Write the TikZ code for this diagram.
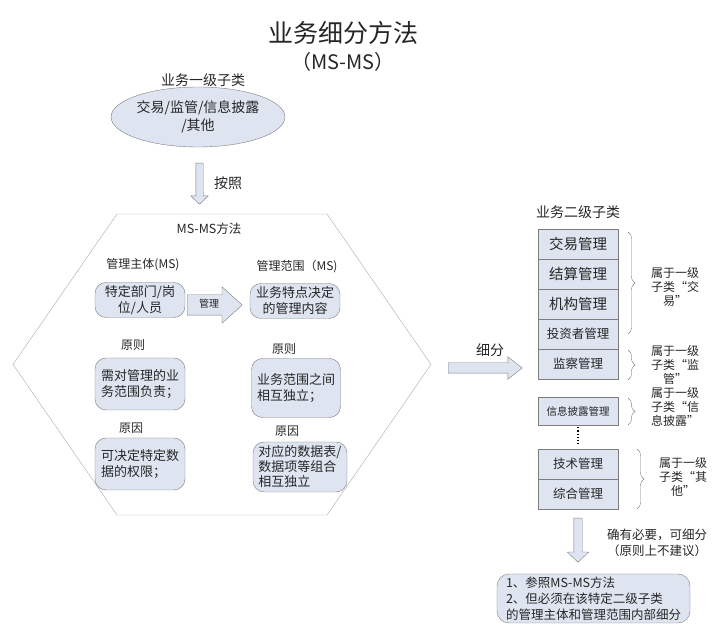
\documentclass[tikz,border=0pt]{standalone}
\usepackage{fontspec}
\setmainfont{Noto Sans CJK SC}
\usetikzlibrary{shapes.geometric,shapes.arrows,decorations.pathreplacing}
\definecolor{boxfill}{RGB}{222,229,241}
\definecolor{boxline}{RGB}{125,125,125}
\definecolor{hexline}{RGB}{170,170,170}
\begin{document}
\begin{tikzpicture}[x=1pt, y=-1pt,
  every node/.style={text=black!85},
  lbl/.style={font=\fontsize{12}{14}\selectfont, align=center, inner sep=0pt},
  box/.style={draw=boxline, fill=boxfill, rectangle, rounded corners=11pt, inner sep=2pt, font=\fontsize{13}{16}\selectfont},
  cell/.style={draw=boxline, fill=boxfill, rectangle, minimum width=80pt, minimum height=30pt, inner sep=0pt},
  fatarrow/.style={single arrow, draw=boxline, fill=boxfill, single arrow head indent=0pt, inner sep=0pt, anchor=tail},
  brc/.style={draw=boxline, decorate, decoration={brace, amplitude=7pt}}
]
\useasboundingbox (0,0) rectangle (724,636);
\node[font=\fontsize{25}{28}\selectfont] (title) at (343,33) {业务细分方法};
\node[font=\fontsize{20}{24}\selectfont] (sub) at (343,62) {（MS-MS）};

\node[lbl, font=\fontsize{14}{16}\selectfont] (l1) at (203,80) {业务一级子类};
\node[ellipse, draw=boxline, fill=boxfill, minimum width=170pt, minimum height=60pt, inner sep=0pt, align=center, font=\fontsize{14}{18}\selectfont] (cls1) at (198,117) {交易/监管/信息披露\\/其他};
\node[fatarrow, shape border rotate=270, minimum height=41pt, minimum width=17pt, inner sep=3.5pt, single arrow head extend=5pt, single arrow tip angle=93] (a1) at (199.5,163) {};
\node[lbl, font=\fontsize{14}{16}\selectfont] (anzhao) at (228,183) {按照};

\draw[hexline] (117,214) -- (327,214) -- (431,364.5) -- (327,515) -- (117,515) -- (13,364.5) -- cycle;
\node[lbl, font=\fontsize{12.5}{14}\selectfont] (msms) at (209,229) {MS-MS方法};
\node[lbl] (zt) at (143,265) {管理主体(MS)};
\node[lbl] (fw) at (297,267) {管理范围（MS)};
\node[box, minimum width=90pt, minimum height=35pt, align=center] (b1) at (140,300) {特定部门/岗\\位/人员};
\node[fatarrow, minimum height=55pt, minimum width=36pt, inner xsep=2pt, inner ysep=5pt, text height=7.5pt, text depth=2.5pt, single arrow head extend=8pt, single arrow tip angle=84, font=\fontsize{10}{12}\selectfont] (mg) at (187,305) {管理};
\node[box, minimum width=90pt, minimum height=35pt, align=center] (b2) at (295,301) {业务特点决定\\的管理内容};
\node[lbl] (yz1) at (133,345) {原则};
\node[lbl] (yz2) at (284,349) {原则};
\node[box, minimum width=90pt, minimum height=52pt, align=left] (b3) at (140,384) {需对管理的业\\务范围负责；};
\node[box, minimum width=89pt, minimum height=59pt, align=left] (b4) at (296,388) {业务范围之间\\相互独立；};
\node[lbl] (yy1) at (131,428) {原因};
\node[lbl] (yy2) at (287,431) {原因};
\node[box, minimum width=90pt, minimum height=52pt, align=left] (b5) at (140,464) {可决定特定数\\据的权限；};
\node[box, minimum width=94pt, minimum height=50pt, align=left, font=\fontsize{13}{15}\selectfont] (b6) at (300,467) {对应的数据表/\\数据项等组合\\相互独立};

\node[fatarrow, minimum height=74pt, minimum width=22pt, inner sep=5pt, single arrow head extend=6pt, single arrow tip angle=76] (xf) at (448,368) {};
\node[lbl, font=\fontsize{14}{16}\selectfont] (xfl) at (490,350) {细分};
\node[lbl, font=\fontsize{14}{16}\selectfont] (l2) at (578,212) {业务二级子类};
\node[cell, font=\fontsize{14.5}{16}\selectfont] (c1) at (578,244) {交易管理};
\node[cell, font=\fontsize{14.5}{16}\selectfont] (c2) at (578,274) {结算管理};
\node[cell, font=\fontsize{14.5}{16}\selectfont] (c3) at (578,304) {机构管理};
\node[cell, font=\fontsize{12.5}{14}\selectfont] (c4) at (578,334) {投资者管理};
\node[cell, font=\fontsize{12.5}{14}\selectfont] (c5) at (578,364) {监察管理};
\node[cell, minimum height=28pt, font=\fontsize{10.5}{12}\selectfont] (c6) at (578,411) {信息披露管理};
\node[cell, font=\fontsize{12.5}{14}\selectfont] (c7) at (578,464) {技术管理};
\node[cell, font=\fontsize{12.5}{14}\selectfont] (c8) at (578,494) {综合管理};
\draw[dotted, line width=1.2pt, shorten <=2pt, shorten >=4pt] (c6.south) -- (c7.north);

\draw[brc] (628,232) -- (628,334);
\draw[brc] (628,350) -- (628,380);
\draw[brc] (628,398) -- (628,425);
\draw[brc] (637,449) -- (637,509);
\node[lbl] (s1) at (675,287) {属于一级\\子类“交\\易”};
\node[lbl] (s2) at (675,365) {属于一级\\子类“监\\管”};
\node[lbl] (s3) at (675,407) {属于一级\\子类“信\\息披露”};
\node[lbl] (s4) at (683,477) {属于一级\\子类“其\\他”};

\node[fatarrow, shape border rotate=270, minimum height=44pt, minimum width=21pt, inner sep=4pt, single arrow head extend=6.5pt, single arrow tip angle=93] (dn) at (578,518) {};
\node[lbl, font=\fontsize{12.5}{16}\selectfont] (need) at (657,543) {确有必要，可细分\\（原则上不建议）};
\node[box, rounded corners=12pt, minimum width=193pt, minimum height=49pt, align=left, font=\fontsize{12.5}{16}\selectfont] (last) at (593.5,598.5) {1、参照MS-MS方法\\2、但必须在该特定二级子类\\的管理主体和管理范围内部细分};
\end{tikzpicture}
\end{document}
